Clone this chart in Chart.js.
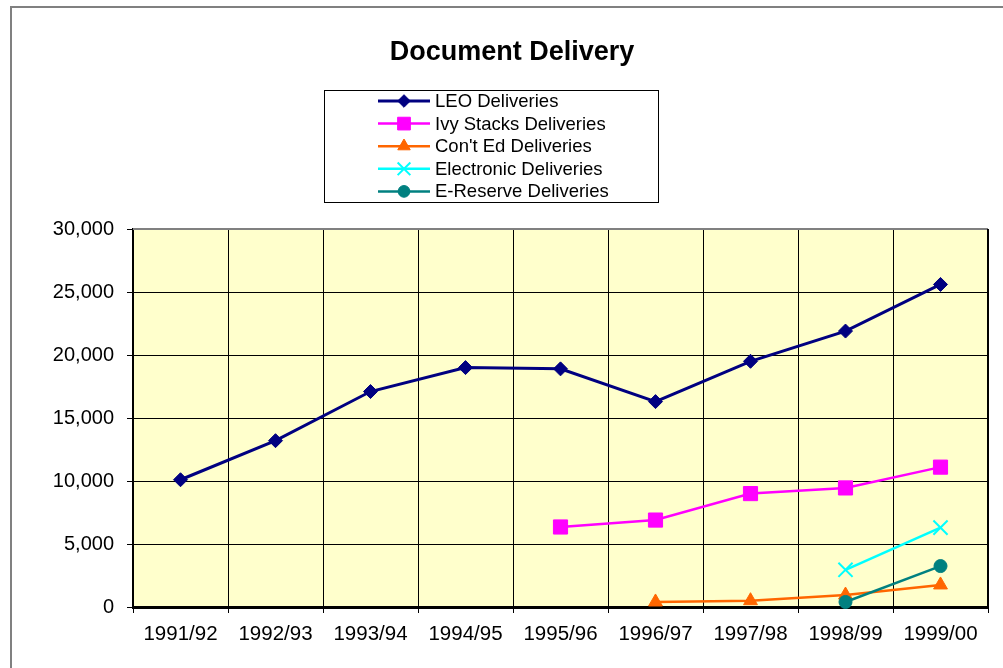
<!DOCTYPE html>
<html>
<head>
<meta charset="utf-8">
<script src="https://cdn.jsdelivr.net/npm/chart.js@4/dist/chart.umd.min.js"></script>
<style>
html,body{margin:0;padding:0;background:#fff;}
#wrap{width:1003px;height:668px;position:relative;}
</style>
</head>
<body>
<div id="wrap"><canvas id="c" width="1003" height="668"></canvas></div>
<script>
const title = 'Document Delivery';
const categories = ['1991/92','1992/93','1993/94','1994/95','1995/96','1996/97','1997/98','1998/99','1999/00'];
const leo        = [10100, 13200, 17100, 19000, 18900, 16300, 19500, 21900, 25600];
const ivy        = [null, null, null, null, 6350, 6900, 9000, 9450, 11100];
const contEd     = [null, null, null, null, null, 400, 500, 950, 1750];
const electronic = [null, null, null, null, null, null, null, 2950, 6300];
const eReserve   = [null, null, null, null, null, null, null, 400, 3250];
const seriesNames = ['LEO Deliveries','Ivy Stacks Deliveries',"Con't Ed Deliveries",'Electronic Deliveries','E-Reserve Deliveries'];
const yMin = 0, yMax = 30000, yStep = 5000;

const FONT = '"Liberation Sans", Arial, Helvetica, sans-serif';

function mk(label, data, color, style, radius, bw, order, lw) {
  return {
    label, data,
    borderColor: color, backgroundColor: color,
    pointBackgroundColor: color, pointBorderColor: color,
    pointStyle: style, pointRadius: radius, pointHoverRadius: radius,
    pointBorderWidth: bw, borderWidth: lw, tension: 0, spanGaps: false,
    order: order, clip: false
  };
}

const datasets = [
  mk(seriesNames[0], leo, '#000080', 'rectRot', 7, 1, 5, 3),
  mk(seriesNames[1], ivy, '#FF00FF', 'rect', 10, 1, 4, 2.5),
  mk(seriesNames[2], contEd, '#FF6600', 'triangle', 8, 1, 3, 2.5),
  mk(seriesNames[3], electronic, '#00FFFF', 'crossRot', 10, 2, 2, 2.5),
  mk(seriesNames[4], eReserve, '#008080', 'circle', 6.5, 1, 1, 2.5)
];

function drawMarker(ctx, style, r, x, y, color, bw) {
  ctx.save();
  ctx.fillStyle = color; ctx.strokeStyle = color; ctx.lineWidth = bw;
  ctx.beginPath();
  if (style === 'rectRot') {
    ctx.moveTo(x, y - r); ctx.lineTo(x + r, y); ctx.lineTo(x, y + r); ctx.lineTo(x - r, y); ctx.closePath();
    ctx.fill(); ctx.stroke();
  } else if (style === 'rect') {
    const s = r * Math.SQRT1_2;
    ctx.rect(x - s, y - s, 2 * s, 2 * s); ctx.fill(); ctx.stroke();
  } else if (style === 'triangle') {
    for (let k = 0; k < 3; k++) {
      const a = k * 2 * Math.PI / 3;
      const px = x + Math.sin(a) * r, py = y - Math.cos(a) * r;
      if (k === 0) ctx.moveTo(px, py); else ctx.lineTo(px, py);
    }
    ctx.closePath(); ctx.fill(); ctx.stroke();
  } else if (style === 'crossRot') {
    const s = r * Math.SQRT1_2;
    ctx.moveTo(x - s, y - s); ctx.lineTo(x + s, y + s);
    ctx.moveTo(x - s, y + s); ctx.lineTo(x + s, y - s);
    ctx.stroke();
  } else {
    ctx.arc(x, y, r, 0, Math.PI * 2); ctx.fill(); ctx.stroke();
  }
  ctx.restore();
}

const decor = {
  id: 'decor',
  beforeDraw(chart) {
    const ctx = chart.ctx, a = chart.chartArea;
    ctx.save();
    ctx.fillStyle = '#ffffff';
    ctx.fillRect(0, 0, chart.width, chart.height);
    ctx.fillStyle = '#FFFFCC';
    ctx.fillRect(a.left, a.top, a.right - a.left, a.bottom - a.top);
    ctx.restore();
  },
  afterDraw(chart) {
    const ctx = chart.ctx, a = chart.chartArea;
    ctx.save();
    // outer frame
    ctx.strokeStyle = '#808080'; ctx.lineWidth = 2;
    ctx.beginPath();
    ctx.moveTo(11, 700); ctx.lineTo(11, 7); ctx.lineTo(1010, 7);
    ctx.stroke();
    // plot area top & right
    ctx.strokeStyle = '#808080'; ctx.lineWidth = 2;
    ctx.beginPath(); ctx.moveTo(a.left, a.top); ctx.lineTo(a.right, a.top); ctx.stroke();
    ctx.strokeStyle = '#000'; ctx.lineWidth = 2;
    ctx.beginPath(); ctx.moveTo(a.right, a.top); ctx.lineTo(a.right, a.bottom); ctx.stroke();
    // title
    ctx.fillStyle = '#000';
    ctx.font = 'bold 27px ' + FONT;
    ctx.textAlign = 'center'; ctx.textBaseline = 'middle';
    ctx.fillText(title, 512, 53);
    // legend
    ctx.lineWidth = 1; ctx.strokeStyle = '#000';
    ctx.strokeRect(324.5, 90.5, 334, 112);
    ctx.font = '18.5px ' + FONT;
    ctx.textAlign = 'left';
    chart.data.datasets.forEach((ds, i) => {
      const y = 101 + i * 22.6;
      ctx.strokeStyle = ds.borderColor; ctx.lineWidth = ds.borderWidth;
      ctx.beginPath(); ctx.moveTo(378, y); ctx.lineTo(430, y); ctx.stroke();
      drawMarker(ctx, ds.pointStyle, ds.pointRadius * 0.9, 404, y, ds.borderColor, ds.pointBorderWidth);
      ctx.fillStyle = '#000';
      ctx.fillText(ds.label, 435, y + 1);
    });
    ctx.restore();
  }
};

new Chart(document.getElementById('c'), {
  type: 'line',
  data: { labels: categories, datasets },
  plugins: [decor],
  options: {
    responsive: false,
    animation: false,
    events: [],
    layout: { padding: { top: 229, right: 15, left: 0, bottom: 0 } },
    plugins: { legend: { display: false }, title: { display: false }, tooltip: { enabled: false } },
    scales: {
      x: {
        type: 'category',
        offset: true,
        afterFit(s) { s.height = 61; },
        grid: { display: true, color: '#000', lineWidth: 1, offset: true, tickLength: 6, drawTicks: true },
        border: { display: true, color: '#000', width: 3 },
        ticks: { color: '#000', font: { family: FONT, size: 20.5 }, padding: 9, maxRotation: 0, autoSkip: false }
      },
      y: {
        min: yMin, max: yMax,
        afterFit(s) { s.width = 133; },
        grid: { color: '#000', lineWidth: 1, tickLength: 6, drawTicks: true },
        border: { display: true, color: '#000', width: 2 },
        ticks: {
          stepSize: yStep, color: '#000', font: { family: FONT, size: 20 }, padding: 13,
          callback: v => v.toLocaleString('en-US')
        }
      }
    }
  }
});
</script>
</body>
</html>
